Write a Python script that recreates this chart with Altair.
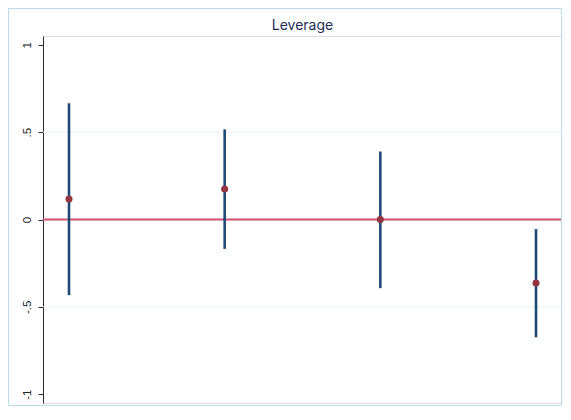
import altair as alt
import pandas as pd

# Data
positions = [1, 2, 3, 4]
estimates = [0.117, 0.175, 0.0, -0.364]
ci_low = [-0.433, -0.168, -0.393, -0.674]
ci_high = [0.665, 0.516, 0.389, -0.055]

tick_values = [-1, -0.5, 0, 0.5, 1]
tick_labels = ["-1", "-.5", "0", ".5", "1"]
grid_values = [-0.5, 0.5]
ref_value = [0]
title_text = "Leverage"

df = pd.DataFrame({"pos": positions, "est": estimates, "lo": ci_low, "hi": ci_high})
grid_df = pd.DataFrame({"g": grid_values})
ref_df = pd.DataFrame({"r": ref_value})

label_expr = " : ".join(
    f"datum.value == {v} ? '{l}'" for v, l in zip(tick_values, tick_labels)
) + " : ''"

x_scale = alt.Scale(domain=[0.833, 4.167], nice=False, zero=False)
y_scale = alt.Scale(domain=[-1.05, 1.05], nice=False, zero=False)

x_enc = alt.X("pos:Q", scale=x_scale, axis=None)

grid = alt.Chart(grid_df).mark_rule(color="#e8f0f2", strokeWidth=1).encode(
    y=alt.Y("g:Q", scale=y_scale,
            axis=alt.Axis(values=tick_values, labelExpr=label_expr, title=None,
                          grid=False, labelAngle=270, labelAlign="center",
                          labelBaseline="bottom", labelPadding=6, tickSize=5,
                          labelFontSize=11.5, labelColor="#222222",
                          labelFont="Liberation Sans",
                          domainColor="#2a2a2a", tickColor="#2a2a2a"))
)

ref = alt.Chart(ref_df).mark_rule(color="#d4506f", strokeWidth=2).encode(
    y=alt.Y("r:Q", scale=y_scale)
)

bars = alt.Chart(df).mark_rule(color="#1d4a75", strokeWidth=2.6).encode(
    x=x_enc,
    y=alt.Y("lo:Q", scale=y_scale),
    y2="hi:Q",
)

points = alt.Chart(df).mark_circle(color="#933640", opacity=1, size=50).encode(
    x=x_enc,
    y=alt.Y("est:Q", scale=y_scale),
)

frame = alt.Chart(ref_df).mark_rect(fill=None, stroke="#b8dde9", strokeWidth=1).encode(
    x=alt.value(-34.5), x2=alt.value(518.5), y=alt.value(-27.5), y2=alt.value(369.5)
)

chart = alt.layer(grid, ref, bars, points, frame).properties(
    width=519,
    height=367,
    title=alt.TitleParams(title_text, fontSize=14, font="Inter", fontWeight="normal",
                          color="#1e2d55", anchor="middle", frame="group", offset=-25),
    autosize=alt.AutoSizeParams(type="none"),
    padding={"left": 35, "top": 28, "right": 0, "bottom": 3},
).configure_view(stroke=None).configure(background="white")

chart.save("out.html", embed_options={"renderer": "svg", "actions": False})
